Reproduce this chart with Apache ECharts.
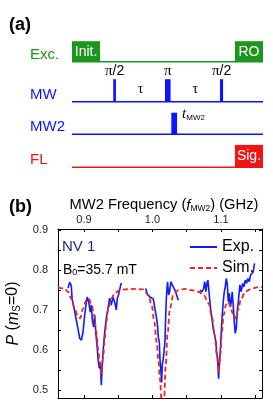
<!DOCTYPE html>
<html><head><meta charset="utf-8">
<script src="https://cdn.jsdelivr.net/npm/echarts@6/dist/echarts.min.js"></script>
<style>html,body{margin:0;padding:0;background:#fff}#c{width:273px;height:409px}</style>
</head><body><div id="c"></div>
<script>
// ---------- Panel (a): pulse sequence (schematic units: time 0-100, level 0-130) ----------
const channelNames = ['Exc.', 'MW', 'MW2', 'FL'];
const channelLevels = [108.3, 68.3, 35.7, 2.8];
const channelColors = ['#1c961c', '#0a14ff', '#0a14ff', '#f01414'];
// [channel, tStart, tEnd, height]
const pulses = [
  [0, 0, 14.7, 20.5],
  [0, 85.3, 100, 20.5],
  [1, 21.6, 23.0, 22.5],
  [1, 48.7, 51.6, 22.5],
  [1, 77.5, 79.1, 22.5],
  [2, 52.0, 55.0, 21.6],
  [3, 85.3, 100, 22.3]
];
const pulseBoxText = ['Init.', 'RO', '', '', '', '', 'Sig.'];
const pulseTopText = ['', '', 'π/2', 'π', 'π/2', '', ''];
const tauBetween = [[2, 3], [3, 4]];

// ---------- Panel (b): MW2 frequency spectrum ----------
const freqTicks = [0.9, 0.95, 1.0, 1.05, 1.1, 1.15];
const freqLabels = [0.9, 1.0, 1.1];
const pTicks = [0.5, 0.55, 0.6, 0.65, 0.7, 0.75, 0.8, 0.85, 0.9];
const pLabels = [0.5, 0.6, 0.7, 0.8, 0.9];

const expSeg1 = [[0.8766,0.755],[0.8791,0.770],[0.8815,0.760],[0.8825,0.730],[0.8854,0.705],[0.8873,0.688],[0.8902,0.663],[0.8937,0.630],[0.8961,0.625],[0.8985,0.645],[0.9010,0.688],[0.9034,0.720],[0.9048,0.733],[0.9069,0.720],[0.9092,0.695],[0.9107,0.713],[0.9121,0.675],[0.9142,0.658],[0.9156,0.688],[0.9171,0.645],[0.9190,0.613],[0.9204,0.580],[0.9223,0.555],[0.9238,0.570],[0.9253,0.513],[0.9267,0.565],[0.9282,0.605],[0.9302,0.645],[0.9326,0.680],[0.9350,0.705],[0.9375,0.730],[0.9399,0.713],[0.9423,0.733],[0.9448,0.720],[0.9472,0.700],[0.9486,0.730],[0.9507,0.740],[0.9526,0.755],[0.9545,0.768]];
const expSeg2 = [[0.9900,0.754],[0.9929,0.738],[0.9964,0.733],[0.9988,0.735],[1.0012,0.728],[1.0036,0.704],[1.0061,0.679],[1.0076,0.658],[1.0085,0.633],[1.0100,0.621],[1.0109,0.579],[1.0124,0.546],[1.0134,0.520],[1.0143,0.563],[1.0158,0.579],[1.0172,0.580],[1.0182,0.621],[1.0192,0.679],[1.0202,0.728],[1.0212,0.754],[1.0221,0.771],[1.0236,0.738],[1.0251,0.746],[1.0270,0.771],[1.0289,0.763],[1.0309,0.766],[1.0328,0.750],[1.0353,0.738],[1.0377,0.725]];
const expSeg3 = [[1.0693,0.750],[1.0723,0.746],[1.0747,0.754],[1.0762,0.771],[1.0781,0.746],[1.0796,0.767],[1.0810,0.775],[1.0830,0.738],[1.0849,0.704],[1.0869,0.679],[1.0888,0.654],[1.0908,0.638],[1.0927,0.621],[1.0937,0.596],[1.0951,0.579],[1.0961,0.546],[1.0966,0.529],[1.0976,0.563],[1.0990,0.596],[1.1005,0.646],[1.1019,0.688],[1.1034,0.721],[1.1049,0.746],[1.1063,0.758],[1.1078,0.779],[1.1092,0.767],[1.1107,0.721],[1.1122,0.742],[1.1136,0.708],[1.1151,0.721],[1.1165,0.746],[1.1180,0.712],[1.1195,0.671],[1.1209,0.642],[1.1224,0.654],[1.1239,0.696],[1.1258,0.729],[1.1277,0.763],[1.1297,0.746],[1.1316,0.767],[1.1336,0.758],[1.1355,0.775],[1.1375,0.767],[1.1394,0.779],[1.1414,0.771],[1.1433,0.788],[1.1453,0.788],[1.1472,0.796],[1.1491,0.817]];
const simData = [[0.8620,0.756],[0.8718,0.754],[0.8766,0.746],[0.8815,0.729],[0.8864,0.704],[0.8912,0.683],[0.8942,0.680],[0.8985,0.704],[0.9034,0.725],[0.9069,0.729],[0.9107,0.717],[0.9146,0.688],[0.9180,0.646],[0.9204,0.604],[0.9229,0.571],[0.9253,0.542],[0.9277,0.579],[0.9302,0.629],[0.9326,0.671],[0.9350,0.700],[0.9399,0.729],[0.9448,0.742],[0.9521,0.750],[0.9599,0.752],[0.9745,0.753],[0.9866,0.752],[0.9939,0.738],[0.9988,0.713],[1.0026,0.671],[1.0061,0.621],[1.0085,0.579],[1.0109,0.529],[1.0134,0.470],[1.0153,0.420],[1.0172,0.485],[1.0193,0.563],[1.0222,0.646],[1.0255,0.704],[1.0304,0.738],[1.0377,0.750],[1.0474,0.753],[1.0577,0.750],[1.0674,0.746],[1.0747,0.738],[1.0820,0.717],[1.0869,0.683],[1.0908,0.638],[1.0942,0.588],[1.0966,0.545],[1.0990,0.588],[1.1015,0.646],[1.1039,0.688],[1.1073,0.713],[1.1102,0.721],[1.1136,0.713],[1.1171,0.692],[1.1209,0.679],[1.1248,0.700],[1.1296,0.729],[1.1355,0.746],[1.1428,0.752],[1.1526,0.757],[1.1599,0.758]];

const FONT = 'Liberation Sans, Arial, sans-serif';
const SERIF = 'Liberation Serif, Times New Roman, serif';
const expData = expSeg1.concat([[0.97, '-']], expSeg2, [[1.05, '-']], expSeg3);

function renderBaseline(params, api) {
  const i = params.dataIndex;
  const lv = channelLevels[i];
  const a = api.coord([0, lv]);
  const b = api.coord([100, lv]);
  return {type: 'group', children: [
    {type: 'line', shape: {x1: a[0], y1: a[1], x2: b[0], y2: b[1]}, style: {stroke: channelColors[i], lineWidth: 1.6}},
    {type: 'text', style: {text: channelNames[i], x: a[0] - 42, y: a[1] - 7, align: 'left', verticalAlign: 'middle', fill: channelColors[i], font: '15px ' + FONT}}
  ]};
}
function renderPulse(params, api) {
  const i = params.dataIndex;
  const p = pulses[i];
  const base = channelLevels[p[0]];
  const a = api.coord([p[1], base]);
  const b = api.coord([p[2], base + p[3]]);
  const cx = (a[0] + b[0]) / 2;
  const ch = [{type: 'rect', shape: {x: a[0], y: b[1], width: b[0] - a[0], height: a[1] - b[1]}, style: {fill: channelColors[p[0]]}}];
  if (pulseBoxText[i]) ch.push({type: 'text', style: {text: pulseBoxText[i], x: cx, y: (a[1] + b[1]) / 2 + 0.5, align: 'center', verticalAlign: 'middle', fill: '#fff', font: '14px ' + FONT}});
  if (pulseTopText[i]) ch.push({type: 'text', style: {text: pulseTopText[i].replace('π', '{s|π}'), x: cx, y: b[1] - 1, align: 'center', verticalAlign: 'bottom', fill: '#000', fontSize: 14, fontFamily: FONT, rich: {s: {fontFamily: SERIF, fontSize: 15, fill: '#000'}}}});
  if (p[0] === 2) ch.push({type: 'text', style: {text: '{t|t}{s|MW2}', x: b[0] + 5, y: b[1] - 7, align: 'left', verticalAlign: 'top', fill: '#000', rich: {t: {fontFamily: SERIF, fontStyle: 'italic', fontSize: 15, lineHeight: 16, verticalAlign: 'bottom', fill: '#000'}, s: {fontFamily: FONT, fontSize: 8, lineHeight: 4, verticalAlign: 'bottom', fill: '#000'}}}});
  return {type: 'group', children: ch};
}
function renderTau(params, api) {
  const pr = tauBetween[params.dataIndex];
  const p1 = pulses[pr[0]], p2 = pulses[pr[1]];
  const t = (p1[2] + p2[1]) / 2;
  const c = api.coord([t, channelLevels[p1[0]] + 12]);
  return {type: 'text', style: {text: 'τ', x: c[0], y: c[1], align: 'center', verticalAlign: 'middle', fill: '#000', font: '14px ' + SERIF}};
}

const axisBlack = {lineStyle: {color: '#000', width: 1}};
const chart = echarts.init(document.getElementById('c'), null, {renderer: 'canvas'});
chart.setOption({
  animation: false,
  backgroundColor: '#fff',
  textStyle: {fontFamily: FONT},
  grid: [
    {left: 72, top: 40, width: 191, height: 130, outerBoundsMode: 'none'},
    {left: 58, top: 229, width: 204, height: 169, outerBoundsMode: 'none'}
  ],
  xAxis: [
    {gridIndex: 0, type: 'value', min: 0, max: 100, show: false},
    {gridIndex: 1, type: 'value', position: 'bottom', min: 0.862, max: 1.16,
      axisLine: axisBlack, splitLine: {show: false},
      axisTick: {inside: true, length: 3, customValues: freqTicks, lineStyle: {color: '#000'}},
      axisLabel: {show: false}},
    {gridIndex: 1, type: 'value', position: 'top', min: 0.862, max: 1.16,
      axisLine: axisBlack, splitLine: {show: false},
      axisTick: {inside: true, length: 3, customValues: freqTicks, lineStyle: {color: '#000'}},
      axisLabel: {customValues: freqLabels, formatter: v => v.toFixed(1), color: '#222', fontSize: 11, margin: 4},
      name: 'MW2 Frequency ({i|f}{sub|MW2}) (GHz)', nameLocation: 'middle', nameGap: 13,
      nameTextStyle: {color: '#000', fontSize: 14.7, padding: [0, 0, 0, 8], rich: {
        i: {fontStyle: 'italic', fontSize: 14.7, lineHeight: 16, verticalAlign: 'bottom', color: '#000'},
        sub: {fontSize: 8.5, lineHeight: 4, verticalAlign: 'bottom', color: '#000'}}}}
  ],
  yAxis: [
    {gridIndex: 0, type: 'value', min: 0, max: 130, show: false},
    {gridIndex: 1, type: 'value', position: 'left', min: 0.481, max: 0.9025,
      axisLine: {show: true, lineStyle: {color: '#000', width: 1}}, splitLine: {show: false},
      axisTick: {inside: true, length: 3, customValues: pTicks, lineStyle: {color: '#000'}},
      axisLabel: {customValues: pLabels, formatter: v => v.toFixed(1), color: '#222', fontSize: 11, margin: 10},
      name: '{i|P} ({i|m}{sub|S}=0)', nameLocation: 'middle', nameGap: 24,
      nameTextStyle: {color: '#000', fontSize: 16, rich: {
        i: {fontStyle: 'italic', fontSize: 16, lineHeight: 18, verticalAlign: 'bottom', color: '#000'},
        sub: {fontSize: 10, lineHeight: 4, verticalAlign: 'bottom', color: '#000'}}}},
    {gridIndex: 1, type: 'value', position: 'right', min: 0.481, max: 0.9025,
      axisLine: {show: true, lineStyle: {color: '#000', width: 1}}, splitLine: {show: false},
      axisTick: {inside: true, length: 3, customValues: pTicks, lineStyle: {color: '#000'}},
      axisLabel: {show: false}}
  ],
  legend: {
    data: ['Exp.', 'Sim.'], orient: 'vertical', left: 189, top: 239,
    itemWidth: 27, itemHeight: 14, itemGap: 5, padding: 0,
    itemStyle: {opacity: 0, borderWidth: 0},
    textStyle: {color: '#000', fontSize: 16, fontFamily: FONT}
  },
  graphic: [
    {type: 'text', left: 9, top: 16, style: {text: '(a)', font: 'bold 18px ' + FONT, fill: '#000'}},
    {type: 'text', left: 9, top: 198, style: {text: '(b)', font: 'bold 18px ' + FONT, fill: '#000'}},
    {type: 'text', left: 62, top: 239, style: {text: 'NV 1', font: '15px ' + FONT, fill: '#1f2a80'}},
    {type: 'text', left: 63, top: 263, style: {text: 'B{s|0}=35.7 mT', fontSize: 14, fontFamily: FONT, fill: '#000',
      rich: {s: {fontSize: 9, lineHeight: 6, verticalAlign: 'bottom', fill: '#000'}}}}
  ],
  series: [
    {type: 'custom', xAxisIndex: 0, yAxisIndex: 0, renderItem: renderBaseline, silent: true,
      data: channelLevels.map(l => [0, l])},
    {type: 'custom', xAxisIndex: 0, yAxisIndex: 0, renderItem: renderPulse, silent: true,
      data: pulses.map(p => [p[1], channelLevels[p[0]]])},
    {type: 'custom', xAxisIndex: 0, yAxisIndex: 0, renderItem: renderTau, silent: true,
      data: tauBetween.map(t => [t[0], 0])},
    {name: 'Exp.', type: 'line', xAxisIndex: 1, yAxisIndex: 1, data: expData, showSymbol: false, symbol: 'none',
      connectNulls: false, lineStyle: {color: '#0a1eff', width: 1.6}, itemStyle: {color: '#0a1eff'}, z: 2},
    {name: 'Sim.', type: 'line', xAxisIndex: 1, yAxisIndex: 1, data: simData, showSymbol: false, symbol: 'none',
      smooth: 0.35, smoothMonotone: 'x', clip: true,
      lineStyle: {color: '#f52020', width: 1.8, type: [5, 3]}, itemStyle: {color: '#f52020'}, z: 3}
  ]
});
</script></body></html>
